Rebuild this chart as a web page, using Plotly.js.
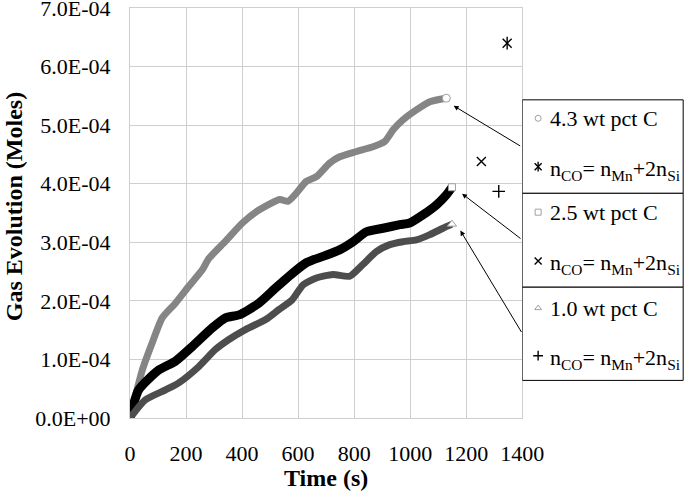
<!DOCTYPE html>
<html>
<head>
<meta charset="utf-8">
<script src="https://cdn.plot.ly/plotly-3.0.1.min.js"></script>
<style>html,body{margin:0;padding:0;background:#fff;}#chart{width:685px;height:491px;}</style>
</head>
<body>
<div id="chart"></div>
<script>
// ---- data ----
const seriesNames = ['4.3 wt pct C', '2.5 wt pct C', '1.0 wt pct C'];
const calcLabel = 'n<sub>CO</sub>= n<sub>Mn</sub>+2n<sub>Si</sub>';
const xTitle = '<b>Time (s)</b>';
const yTitle = '<b>Gas Evolution (Moles)</b>';

const time43 = [0, 44, 79, 115, 162, 210, 258, 281, 341, 401, 460, 534, 564, 594, 629, 665, 712, 748, 808, 867, 909, 939, 974, 1022, 1070, 1129];
const gas43  = [0, 0.82e-4, 1.28e-4, 1.71e-4, 1.96e-4, 2.25e-4, 2.53e-4, 2.72e-4, 3.02e-4, 3.33e-4, 3.55e-4, 3.73e-4, 3.70e-4, 3.84e-4, 4.04e-4, 4.12e-4, 4.35e-4, 4.46e-4, 4.55e-4, 4.63e-4, 4.72e-4, 4.92e-4, 5.09e-4, 5.26e-4, 5.40e-4, 5.46e-4];

const time25 = [0, 31, 103, 162, 222, 294, 341, 389, 460, 520, 575, 629, 689, 748, 796, 844, 903, 963, 998, 1046, 1094, 1129, 1149];
const gas25  = [0, 0.48e-4, 0.82e-4, 0.97e-4, 1.22e-4, 1.54e-4, 1.71e-4, 1.76e-4, 1.96e-4, 2.22e-4, 2.45e-4, 2.65e-4, 2.76e-4, 2.87e-4, 3.01e-4, 3.18e-4, 3.24e-4, 3.30e-4, 3.33e-4, 3.47e-4, 3.64e-4, 3.81e-4, 3.94e-4];

const time10 = [0, 55, 127, 174, 246, 305, 353, 412, 484, 531, 579, 617, 665, 724, 784, 831, 879, 927, 974, 1022, 1070, 1117, 1149];
const gas10  = [0, 0.31e-4, 0.48e-4, 0.60e-4, 0.88e-4, 1.17e-4, 1.34e-4, 1.51e-4, 1.68e-4, 1.85e-4, 2.02e-4, 2.27e-4, 2.39e-4, 2.45e-4, 2.42e-4, 2.62e-4, 2.84e-4, 2.96e-4, 3.01e-4, 3.04e-4, 3.13e-4, 3.24e-4, 3.31e-4];

// calculated n_CO = n_Mn + 2 n_Si points
const calcTime = [1346, 1254, 1316];
const calcGas  = [6.40e-4, 4.38e-4, 3.87e-4];

const xTickVals = [0, 200, 400, 600, 800, 1000, 1200, 1400];
const yTickVals = [0, 1e-4, 2e-4, 3e-4, 4e-4, 5e-4, 6e-4, 7e-4];
const yTickText = ['0.0E+00', '1.0E-04', '2.0E-04', '3.0E-04', '4.0E-04', '5.0E-04', '6.0E-04', '7.0E-04'];

// ---- styles ----
const FONT = '"Liberation Serif", "Times New Roman", serif';
const lineColors = ['#858585', '#000000', '#4d4d4d'];
const lineWidths = [7, 9, 7];
const endSymbols = ['circle', 'square', 'triangle-up'];
const endSizes = [8, 7, 8];
const calcSymbols = [['x-thin-open', 'line-ns-open'], ['x-thin-open'], ['cross-thin-open']];

const series = [[time43, gas43], [time25, gas25], [time10, gas10]];
const traces = [];

series.forEach((s, i) => {
  traces.push({
    x: s[0], y: s[1], mode: 'lines', type: 'scatter',
    line: {color: lineColors[i], width: lineWidths[i], shape: 'spline', smoothing: 0.6},
    showlegend: false, hoverinfo: 'skip'
  });
});
series.forEach((s, i) => {
  const n = s[0].length - 1;
  traces.push({
    x: [s[0][n]], y: [s[1][n]], mode: 'markers', type: 'scatter',
    marker: {symbol: endSymbols[i], size: endSizes[i], color: '#ffffff', line: {color: '#a0a0a0', width: 1}},
    showlegend: false, hoverinfo: 'skip'
  });
});
calcTime.forEach((t, i) => {
  calcSymbols[i].forEach(sym => {
    traces.push({
      x: [t], y: [calcGas[i]], mode: 'markers', type: 'scatter', cliponaxis: false,
      marker: {symbol: sym, size: 9, color: '#000', line: {color: '#000', width: 1.4}},
      showlegend: false, hoverinfo: 'skip'
    });
  });
});

// legend panel (second invisible subplot on the right)
const boxTop = [0.776, 0.548, 0.319];
const boxBot = [0.548, 0.319, 0.0917];
const symY1 = [0.731, 0.502, 0.268];
const symY2 = [0.613, 0.383, 0.152];
const shapes = [];
const annotations = [];
seriesNames.forEach((name, i) => {
  shapes.push({type: 'rect', xref: 'x2', yref: 'y2', x0: 0, x1: 0.995, y0: boxBot[i], y1: boxTop[i],
    line: {color: '#000', width: 1}, fillcolor: '#ffffff', layer: 'below'});
  traces.push({
    x: [0.098], y: [symY1[i]], xaxis: 'x2', yaxis: 'y2', mode: 'markers', type: 'scatter', cliponaxis: false,
    marker: {symbol: endSymbols[i], size: 6, color: '#ffffff', line: {color: '#a0a0a0', width: 1}},
    showlegend: false, hoverinfo: 'skip'
  });
  calcSymbols[i].forEach(sym => {
    traces.push({
      x: [0.098], y: [symY2[i]], xaxis: 'x2', yaxis: 'y2', mode: 'markers', type: 'scatter', cliponaxis: false,
      marker: {symbol: sym, size: 7, color: '#000', line: {color: '#000', width: 1.4}},
      showlegend: false, hoverinfo: 'skip'
    });
  });
  annotations.push({xref: 'x2', yref: 'y2', x: 0.158, y: symY1[i], xanchor: 'left', yanchor: 'middle',
    text: name, showarrow: false, font: {family: FONT, size: 22, color: '#000'}});
  annotations.push({xref: 'x2', yref: 'y2', x: 0.158, y: symY2[i] - 0.008, xanchor: 'left', yanchor: 'middle',
    text: calcLabel, showarrow: false, font: {family: FONT, size: 22, color: '#000'}});
});

// arrows from legend boxes to curve ends
const arrowTipX = [1155, 1185, 1179];
const arrowTipY = [5.33e-4, 3.83e-4, 3.20e-4];
const arrowAx = [68, 60, 62];
const arrowAy = [41, 46, 103];
arrowTipX.forEach((x, i) => {
  annotations.push({xref: 'x', yref: 'y', x: x, y: arrowTipY[i], ax: arrowAx[i], ay: arrowAy[i],
    text: '', showarrow: true, arrowhead: 2, arrowsize: 1, arrowwidth: 1, arrowcolor: '#000', standoff: 0});
});

// axis titles
annotations.push({xref: 'x domain', yref: 'paper', x: 0.5, y: -0.147, xanchor: 'center', yanchor: 'middle',
  text: xTitle, showarrow: false, font: {family: FONT, size: 24, color: '#000'}});
annotations.push({xref: 'paper', yref: 'paper', x: -0.208, y: 0.516, xanchor: 'center', yanchor: 'middle',
  textangle: -90, text: yTitle, showarrow: false, font: {family: FONT, size: 24, color: '#000'}});

const layout = {
  width: 685, height: 491,
  margin: {l: 130, r: 1, t: 8, b: 73, pad: 0},
  paper_bgcolor: '#ffffff', plot_bgcolor: '#ffffff',
  font: {family: FONT, size: 22, color: '#000'},
  xaxis: {
    domain: [0, 0.7081], range: [0, 1400], tickvals: xTickVals,
    showgrid: true, gridcolor: '#cfcfcf', gridwidth: 1, zeroline: false,
    showline: true, linecolor: '#cfcfcf', linewidth: 1, mirror: true,
    ticks: '', ticklabelstandoff: 16, ticklabeloverflow: 'allow',
    tickfont: {family: FONT, size: 22, color: '#000'},
    automargin: false
  },
  yaxis: {
    domain: [0, 1], range: [0, 7e-4], tickvals: yTickVals, ticktext: yTickText,
    showgrid: true, gridcolor: '#cfcfcf', gridwidth: 1, zeroline: false,
    showline: true, linecolor: '#cfcfcf', linewidth: 1, mirror: true,
    ticks: '', ticklabelstandoff: 14, ticklabeloverflow: 'allow',
    tickfont: {family: FONT, size: 22, color: '#000'},
    automargin: false
  },
  xaxis2: {domain: [0.7081, 1], range: [0, 1], anchor: 'y2', visible: false, fixedrange: true},
  yaxis2: {domain: [0, 1], range: [0, 1], anchor: 'x2', visible: false, fixedrange: true},
  shapes: shapes,
  annotations: annotations,
  showlegend: false
};

Plotly.newPlot('chart', traces, layout, {displayModeBar: false, staticPlot: true});
</script>
</body>
</html>
